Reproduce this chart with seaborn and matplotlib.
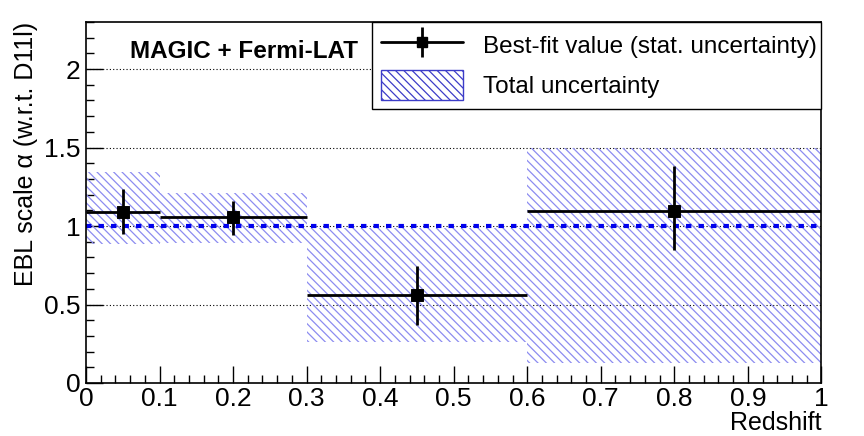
import numpy as np
import pandas as pd
import matplotlib
matplotlib.use('Agg')
import matplotlib.pyplot as plt
import matplotlib.patches as mpatches
from matplotlib.lines import Line2D
from matplotlib.legend_handler import HandlerTuple
from matplotlib.ticker import MultipleLocator
import seaborn as sns

# redshift bins
bin_lo = [0.0, 0.1, 0.3, 0.6]
bin_hi = [0.1, 0.3, 0.6, 1.0]
z_center = [0.05, 0.2, 0.45, 0.8]
# best-fit EBL scale and stat. uncertainty
alpha = [1.09, 1.057, 0.56, 1.095]
stat_lo = [0.95, 0.943, 0.37, 0.845]
stat_hi = [1.236, 1.16, 0.745, 1.38]
# total uncertainty band
tot_lo = [0.885, 0.89, 0.26, 0.127]
tot_hi = [1.344, 1.21, 0.99, 1.5]

df = pd.DataFrame({'z': z_center, 'alpha': alpha})

sns.set_theme(style='ticks')
plt.rcParams['font.family'] = ['Liberation Sans', 'DejaVu Sans']
plt.rcParams['hatch.linewidth'] = 0.9
plt.rcParams['hatch.color'] = '#8c8cf0'
for k in ['text.color', 'axes.labelcolor', 'xtick.color', 'ytick.color']:
    plt.rcParams[k] = 'black'

fig = plt.figure(figsize=(8.64, 4.36), dpi=100)
ax = fig.add_axes([0.0995, 0.1216, 0.8512, 0.828])

# grid + reference line
for g in [0.5, 1.0, 1.5, 2.0]:
    ax.axhline(g, color='black', linestyle=(0, (1, 2)), linewidth=0.8, zorder=1)
ax.axhline(1.0, color='#0000ee', linestyle=(0, (1.3, 1.7)), linewidth=3, zorder=2)

widths = np.array(bin_hi) - np.array(bin_lo)
ax.bar(bin_lo, np.array(tot_hi) - np.array(tot_lo), width=widths, bottom=tot_lo,
       align='edge', facecolor='none', edgecolor='#8c8cf0', linewidth=0,
       hatch='\\\\\\\\', zorder=1)

xerr = [np.array(z_center) - np.array(bin_lo), np.array(bin_hi) - np.array(z_center)]
yerr = [np.array(alpha) - np.array(stat_lo), np.array(stat_hi) - np.array(alpha)]
ax.errorbar(z_center, alpha, xerr=xerr, yerr=yerr, fmt='none',
            ecolor='black', elinewidth=2, capsize=0, zorder=3)
sns.scatterplot(data=df, x='z', y='alpha', marker='s', s=70, color='black',
                edgecolor='black', ax=ax, zorder=4, legend=False)

ax.set_xlim(0, 1)
ax.set_ylim(0, 2.3)
ax.set_xticks([0, 0.1, 0.2, 0.3, 0.4, 0.5, 0.6, 0.7, 0.8, 0.9, 1])
ax.set_xticklabels(['0', '0.1', '0.2', '0.3', '0.4', '0.5', '0.6', '0.7', '0.8', '0.9', '1'])
ax.set_yticks([0, 0.5, 1, 1.5, 2])
ax.set_yticklabels(['0', '0.5', '1', '1.5', '2'])
ax.xaxis.set_minor_locator(MultipleLocator(0.02))
ax.yaxis.set_minor_locator(MultipleLocator(0.1))
ax.tick_params(which='both', direction='in', labelsize=19, width=1, color='black')
ax.tick_params(which='major', length=12)
ax.tick_params(which='minor', length=6)
ax.tick_params(axis='x', pad=3)
ax.tick_params(axis='y', pad=4)
for s in ax.spines.values():
    s.set_linewidth(1.2)
    s.set_color('black')

ax.set_xlabel('Redshift', fontsize=18, loc='right', labelpad=0)
ax.set_ylabel('EBL scale α (w.r.t. D11l)', fontsize=18, loc='top', labelpad=4)

ax.text(0.06, 2.11, 'MAGIC + Fermi-LAT', fontsize=17.5, fontweight='bold',
        ha='left', va='center', zorder=5)

h_line = Line2D([], [], color='black', lw=2, marker='s', ms=7)
h_vbar = Line2D([], [], color='black', linestyle='none', marker='|', ms=22, mew=2)
h2 = mpatches.Patch(facecolor='white', edgecolor='#3c3cc8', hatch='\\\\\\\\', linewidth=1)
leg = ax.legend([(h_line, h_vbar), h2],
                ['Best-fit value (stat. uncertainty)', 'Total uncertainty'],
                handler_map={tuple: HandlerTuple(ndivide=1)},
                loc='upper left', bbox_to_anchor=(0.389, 0.762, 0.611, 0.238),
                mode='expand', fontsize=17.5, frameon=True, fancybox=False,
                edgecolor='black', framealpha=1, borderaxespad=0,
                handlelength=3.4, handleheight=1.5, labelspacing=0.42,
                borderpad=0.35, handletextpad=0.8)
leg.get_frame().set_linewidth(1)
leg.set_zorder(10)

fig.savefig('out.png', dpi=100)
